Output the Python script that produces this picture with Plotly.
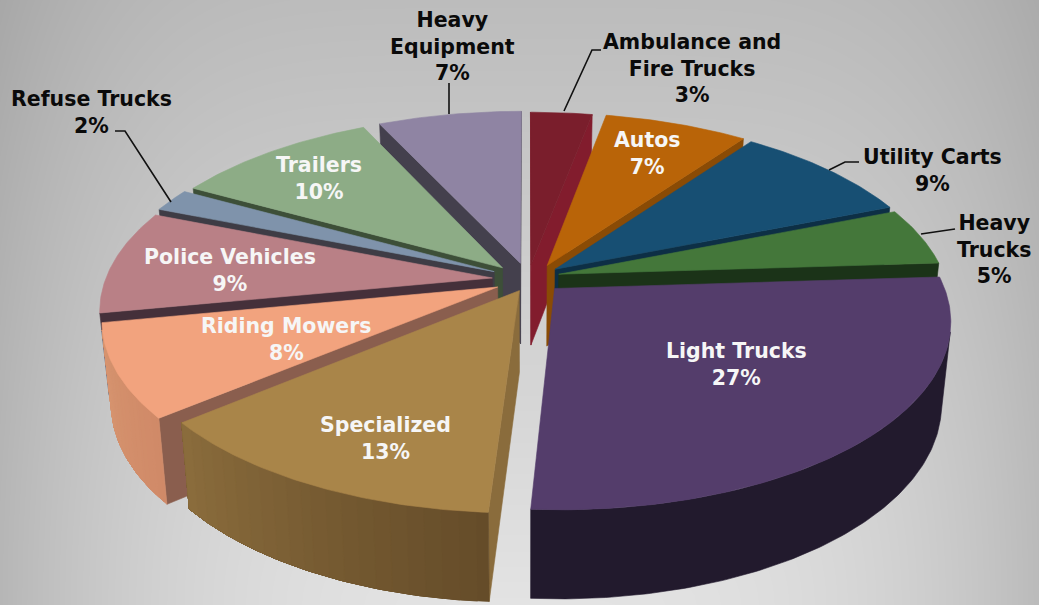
import numpy as np
import plotly.graph_objects as go

# Vehicle fleet shares, clockwise from twelve o'clock
categories = ["Ambulance and Fire Trucks", "Autos", "Utility Carts", "Heavy Trucks",
              "Light Trucks", "Specialized", "Riding Mowers", "Police Vehicles",
              "Refuse Trucks", "Trailers", "Heavy Equipment"]
shares = [3, 7, 9, 5, 27, 13, 8, 9, 2, 10, 7]
label_lines = [["Ambulance and", "Fire Trucks"], ["Autos"], ["Utility Carts"], ["Heavy", "Trucks"],
               ["Light Trucks"], ["Specialized"], ["Riding Mowers"], ["Police Vehicles"],
               ["Refuse Trucks"], ["Trailers"], ["Heavy", "Equipment"]]

top_colors = ["#7a1e2c", "#b96408", "#174f73", "#44773a", "#543d6b", "#a98549",
              "#f2a37e", "#b98086", "#7f93ab", "#8dac86", "#8f84a3"]
wall_colors = ["#821c2d", "#8a4b05", "#0d2f45", "#1b3318", "#2a1f38", "#8a6c3c",
               "#8a5e4e", "#45303a", "#3e3c45", "#3d4f38", "#44404d"]
# Outer rim shading, from the clockwise start of the slice to its end
rim_colors = [("#5e1620", "#5e1620"), ("#8a4b05", "#8a4b05"), ("#0d2f45", "#0d2f45"),
              ("#1b3318", "#1b3318"), ("#221a2d", "#221a2d"), ("#654c29", "#8a6c3c"),
              ("#d08a68", "#d6946f"), ("#45303a", "#45303a"), ("#3e3c45", "#3e3c45"),
              ("#3d4f38", "#3d4f38"), ("#44404d", "#44404d")]
# How far each slice stands out from the disc, plus a small sideways and forward shift
pull = [0.07, 0.07, 0.07, 0.07, 0.10, 0.07, 0.07, 0.07, 0.07, 0.07, 0.07]
shift_x = [0.004, 0.025, 0.018, 0.014, 0.0, 0.012, -0.012, -0.02, -0.022, -0.016, -0.002]
shift_y = [0.0, 0.0, 0.0, 0.0, -0.008, 0.012, 0.025, 0.012, 0.0, 0.0, -0.008]
label_xy = [(692, 68), (647, 153), (932, 170), (994, 249), (736, 364), (385, 438),
            (286, 339), (230, 270), (91, 112), (319, 178), (452, 46)]
label_ink = ["#0a0a0a", "#f6f6f6", "#0a0a0a", "#0a0a0a", "#f6f6f6", "#f6f6f6",
             "#f6f6f6", "#f6f6f6", "#0a0a0a", "#f6f6f6", "#0a0a0a"]
leaders = [([601, 592, 564], [50, 50, 111]), ([859, 845, 829], [162, 162, 170]),
           ([955, 940, 921], [229, 231, 234]), ([115, 125, 171], [131, 131, 202]),
           ([449, 449], [83, 114])]

# Perspective camera for the disc
CX, CY = 527, 277
RX, RY = 386, 181
PERSP = 0.1635
DEPTH = 81
TAPER = 0.022  # the lower face of the disc sits slightly further from the camera


def project(x, y, z=0.0):
    s = 1.0 / (1.0 - PERSP * np.asarray(y))
    return (CX + RX * np.asarray(x) * s * (1 - TAPER * np.asarray(z)),
            CY + RY * np.asarray(y) * s + DEPTH * np.asarray(z) * np.sqrt(s))


def area(xs, ys):
    return 0.5 * np.sum(xs * np.roll(ys, -1) - np.roll(xs, -1) * ys)


def blend(a, b, t):
    ca = [int(a[i:i + 2], 16) for i in (1, 3, 5)]
    cb = [int(b[i:i + 2], 16) for i in (1, 3, 5)]
    return "rgb(%d,%d,%d)" % tuple(round(p + (q - p) * t) for p, q in zip(ca, cb))


fig = go.Figure()

# Grey backdrop, brightest along the bottom and falling away toward the top and sides
gx = np.linspace(0, 1039, 105)
gy = np.linspace(0, 605, 61)
GX, GY = np.meshgrid(gx, gy)
side = np.abs(GX - 530) / 530
rise = (605 - GY) / 605
shade = 227 - np.sqrt((39 * rise) ** 2 + (45 * side ** 2.5) ** 2)
fig.add_trace(go.Heatmap(x=gx, y=gy, z=shade, zmin=0, zmax=255, zsmooth="best",
                         colorscale=[[0, "#000000"], [1, "#ffffff"]], showscale=False,
                         hoverinfo="skip"))


def face(xs, ys, color):
    fig.add_trace(go.Scatter(x=np.append(xs, xs[0]), y=np.append(ys, ys[0]), mode="lines",
                             fill="toself", fillcolor=color, line=dict(color=color, width=0.6),
                             hoverinfo="skip", showlegend=False))


bounds = 2 * np.pi * np.concatenate([[0], np.cumsum(shares)]) / np.sum(shares)
slices = []
for i in range(len(shares)):
    a0, a1 = bounds[i], bounds[i + 1]
    mid = (a0 + a1) / 2
    ox = pull[i] * np.sin(mid) + shift_x[i]
    oy = -pull[i] * np.cos(mid) + shift_y[i]
    slices.append((oy, i, a0, a1, ox, oy))

# Paint from the back of the disc to the front
for _, i, a0, a1, ox, oy in sorted(slices):
    theta = np.linspace(a0, a1, max(24, int((a1 - a0) * 80)))
    ax, ay = ox + np.sin(theta), oy - np.cos(theta)

    # Cut walls, kept only when they turn toward the viewer
    for edge, sign in ((a0, 1), (a1, -1)):
        ex, ey = ox + np.sin(edge), oy - np.cos(edge)
        wx = np.array([ox, ex, ex, ox])
        wy = np.array([oy, ey, ey, oy])
        sx, sy = project(wx, wy, np.array([0, 0, 1, 1.0]))
        if sign * area(sx, sy) < 0:
            face(sx, sy, wall_colors[i])

    # Outer rim: find the part facing the viewer, then lay overlapping shaded bands over it
    tx, ty = project(ax, ay)
    bx, by = project(ax, ay, np.ones_like(ax))
    facing = [k for k in range(len(theta) - 1)
              if area(np.array([tx[k], tx[k + 1], bx[k + 1], bx[k]]),
                      np.array([ty[k], ty[k + 1], by[k + 1], by[k]])) < 0]
    if facing:
        first, last = facing[0], facing[-1] + 1
        n_bands = 1 if rim_colors[i][0] == rim_colors[i][1] else 22
        for b in range(n_bands):
            start = first + (last - first) * b // n_bands
            face(np.concatenate([tx[start:last + 1], bx[start:last + 1][::-1]]),
                 np.concatenate([ty[start:last + 1], by[start:last + 1][::-1]]),
                 blend(*rim_colors[i], b / max(1, n_bands - 1)))

    # Top surface
    sx, sy = project(np.concatenate([[ox], ax]), np.concatenate([[oy], ay]))
    face(sx, sy, top_colors[i])

for lx, ly in leaders:
    fig.add_trace(go.Scatter(x=lx, y=ly, mode="lines", line=dict(color="#111111", width=1.6),
                             hoverinfo="skip", showlegend=False))

for lines, share, (x, y), ink in zip(label_lines, shares, label_xy, label_ink):
    fig.add_annotation(x=x, y=y, xref="x", yref="y", showarrow=False,
                       text="<br>".join(lines + [f"{share}%"]), align="center",
                       font=dict(family="DejaVu Sans", size=20.5, color=ink, weight="bold"))

fig.update_layout(width=1039, height=605, margin=dict(l=0, r=0, t=0, b=0),
                  paper_bgcolor="#cfcfcf", plot_bgcolor="#cfcfcf", showlegend=False,
                  xaxis=dict(range=[0, 1039], visible=False, fixedrange=True),
                  yaxis=dict(range=[605, 0], visible=False, fixedrange=True))
fig.write_html("out.html", config={"displayModeBar": False})
